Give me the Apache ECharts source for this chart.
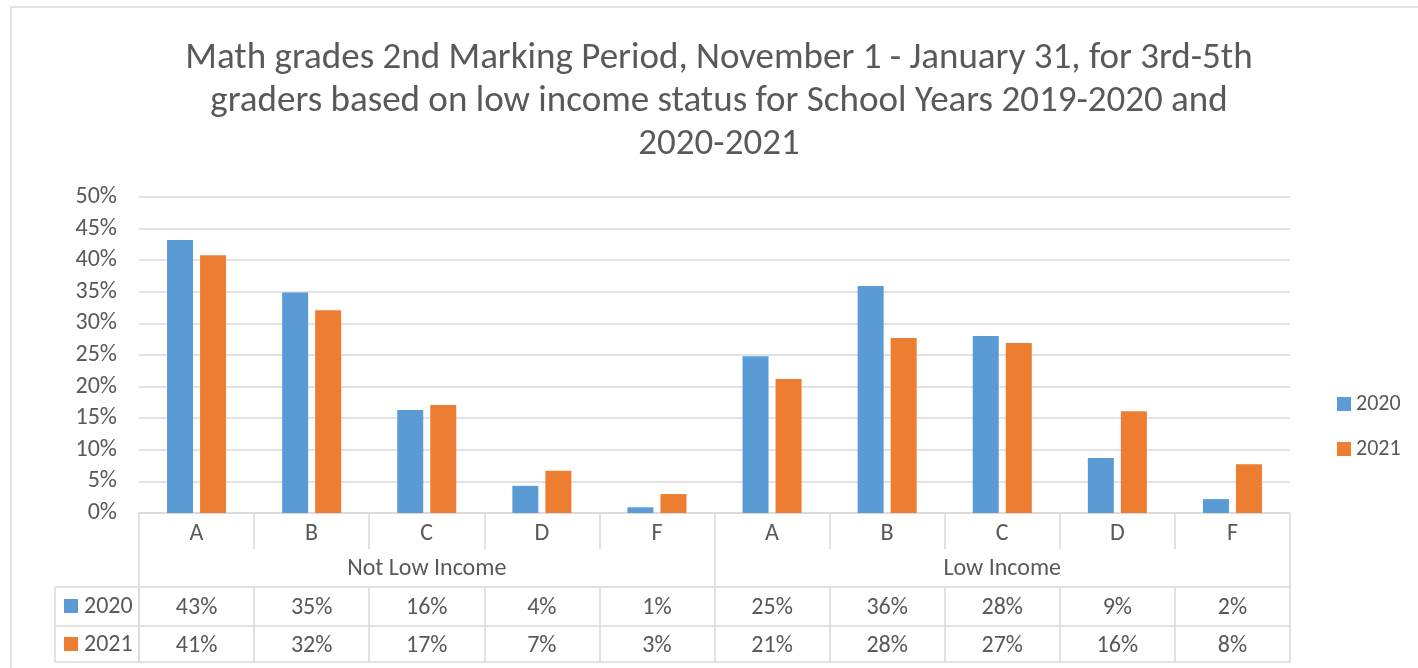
<!DOCTYPE html>
<html>
<head>
<meta charset="utf-8">
<script src="https://cdn.jsdelivr.net/npm/echarts@6/dist/echarts.min.js"></script>
<style>
  html, body { margin: 0; padding: 0; background: #fff; }
  #chart { width: 1418px; height: 668px; }
</style>
</head>
<body>
<div id="chart"></div>
<script>
  // grades and income groups
  var grades = ['A', 'B', 'C', 'D', 'F', 'A', 'B', 'C', 'D', 'F'];
  var groups = ['Not Low Income', 'Low Income'];
  // share of students per grade (bar heights)
  var values2020 = [0.432, 0.349, 0.163, 0.043, 0.009, 0.248, 0.359, 0.280, 0.087, 0.022];
  var values2021 = [0.408, 0.321, 0.171, 0.067, 0.030, 0.212, 0.277, 0.269, 0.161, 0.077];
  // rounded labels shown in the data table
  var table2020 = ['43%', '35%', '16%', '4%', '1%', '25%', '36%', '28%', '9%', '2%'];
  var table2021 = ['41%', '32%', '17%', '7%', '3%', '21%', '28%', '27%', '16%', '8%'];

  var blue = '#5B9BD5';
  var orange = '#ED7D31';
  var lineColor = '#D9D9D9';
  var textColor = '#595959';
  var font = 'Carlito, Calibri, "Open Sans", sans-serif';

  var idx = grades.map(function (g, i) { return String(i); });

  // one helper for the table rows, they are all category axes under the grid
  function tableAxis(offset, tickLen, labels, showLine, margin, data) {
    return {
      type: 'category',
      gridIndex: 0,
      position: 'bottom',
      offset: offset,
      data: data || idx,
      axisLine: { show: showLine, lineStyle: { color: lineColor, width: 1.5 } },
      axisTick: { show: tickLen > 0, length: tickLen, interval: 0, lineStyle: { color: lineColor, width: 1.5 } },
      axisLabel: {
        show: !!labels,
        interval: 0,
        margin: margin,
        color: textColor,
        fontSize: 24,
        fontFamily: font,
        formatter: function (v, i) { return labels ? labels[i] : ''; }
      },
      splitLine: { show: false }
    };
  }

  var option = {
    animation: false,
    backgroundColor: '#fff',
    title: {
      text: 'Math grades 2nd Marking Period, November 1 - January 31, for 3rd-5th\ngraders based on low income status for School Years 2019-2020 and\n2020-2021',
      left: 714,
      textAlign: 'center',
      top: 32,
      textStyle: {
        color: textColor,
        fontSize: 37,
        fontWeight: 'normal',
        fontFamily: font,
        lineHeight: 43
      }
    },
    legend: {
      orient: 'vertical',
      left: 1332,
      top: 388,
      itemWidth: 14,
      itemHeight: 14,
      itemGap: 23,
      icon: 'rect',
      textStyle: { color: textColor, fontSize: 22, fontFamily: font },
      data: ['2020', '2021']
    },
    grid: { left: 139, right: 128, top: 197, bottom: 155, containLabel: false },
    xAxis: [
      tableAxis(0, 36, grades, true, 9),
      tableAxis(36, 38, groups, false, 8, groups),
      tableAxis(74, 39, table2020, true, 9),
      tableAxis(113, 36, table2021, true, 8),
      tableAxis(149, 0, null, true, 0)
    ],
    yAxis: {
      type: 'value',
      min: 0,
      max: 0.5,
      interval: 0.05,
      axisLine: { show: false },
      axisTick: { show: false },
      axisLabel: {
        color: textColor,
        fontSize: 24,
        fontFamily: font,
        margin: 22,
        formatter: function (v) { return Math.round(v * 100) + '%'; }
      },
      splitLine: { lineStyle: { color: lineColor, width: 1.5 } }
    },
    series: [
      {
        name: '2020',
        type: 'bar',
        xAxisIndex: 0,
        data: values2020,
        barWidth: 26,
        barGap: '27%',
        itemStyle: { color: blue }
      },
      {
        name: '2021',
        type: 'bar',
        xAxisIndex: 0,
        data: values2021,
        barWidth: 26,
        barGap: '27%',
        itemStyle: { color: orange }
      }
    ],
    graphic: [
      // outer chart border
      { type: 'rect', shape: { x: 11, y: 7, width: 1420, height: 680 }, style: { fill: null, stroke: lineColor, lineWidth: 1.5 }, silent: true },
      // left header cells of the data table
      { type: 'line', shape: { x1: 55, y1: 587, x2: 139, y2: 587 }, style: { stroke: lineColor, lineWidth: 1.5 } },
      { type: 'line', shape: { x1: 55, y1: 626, x2: 139, y2: 626 }, style: { stroke: lineColor, lineWidth: 1.5 } },
      { type: 'line', shape: { x1: 55, y1: 662, x2: 139, y2: 662 }, style: { stroke: lineColor, lineWidth: 1.5 } },
      { type: 'line', shape: { x1: 55, y1: 587, x2: 55, y2: 662 }, style: { stroke: lineColor, lineWidth: 1.5 } },
      { type: 'line', shape: { x1: 139, y1: 587, x2: 139, y2: 662 }, style: { stroke: lineColor, lineWidth: 1.5 } },
      { type: 'rect', shape: { x: 64, y: 599, width: 14, height: 14 }, style: { fill: blue } },
      { type: 'rect', shape: { x: 64, y: 637, width: 14, height: 14 }, style: { fill: orange } },
      { type: 'text', left: 84, top: 595, style: { text: '2020', fill: textColor, fontSize: 24, fontFamily: font } },
      { type: 'text', left: 84, top: 633, style: { text: '2021', fill: textColor, fontSize: 24, fontFamily: font } }
    ]
  };

  var myChart = echarts.init(document.getElementById('chart'));
  myChart.setOption(option);
</script>
</body>
</html>
